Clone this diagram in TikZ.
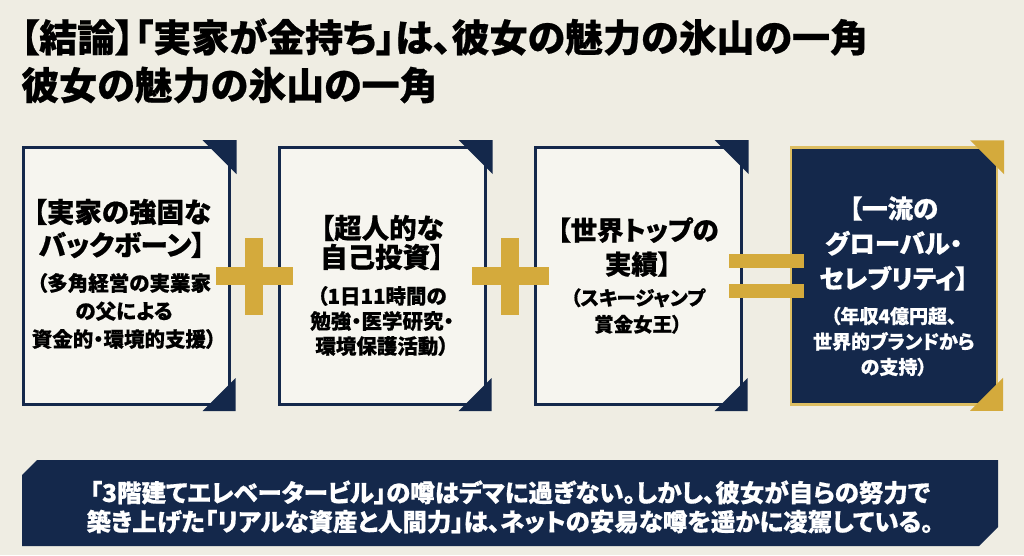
\documentclass[tikz,border=0pt]{standalone}
\usepackage{fontspec}
\setmainfont{Noto Sans CJK JP}
\newfontfamily\jppalt{Noto Sans CJK JP}[RawFeature=+palt, BoldFeatures={FakeBold=0.6}]
\usetikzlibrary{positioning, calc}
\definecolor{PageBg}{HTML}{EFEDE3}
\definecolor{CardFill}{HTML}{F6F5EF}
\definecolor{DeepNavy}{HTML}{14284B}
\definecolor{RichGold}{HTML}{D4AA3C}
\definecolor{PaleGold}{HTML}{DDBE62}
\tikzset{
    % Card frame
    card/.style={
        rectangle,
        draw=DeepNavy,
        line width=3pt,
        fill=CardFill,
        minimum width=206pt,
        minimum height=257pt
    },
    % Result card
    resultcard/.style={
        card,
        draw=PaleGold,
        line width=2.5pt,
        fill=DeepNavy
    },
    % Card heading
    cardtitle/.style={
        align=center,
        inner sep=0pt,
        font=\jppalt\bfseries\fontsize{27.5}{32}\selectfont
    },
    % Card detail
    cardsub/.style={
        align=center,
        inner sep=0pt,
        font=\jppalt\bfseries\fontsize{20.5}{27}\selectfont
    },
    % Gold operator bar
    opbar/.style={
        rectangle,
        fill=RichGold,
        inner sep=0pt
    }
}

\begin{document}
\begin{tikzpicture}[x=1pt, y=-1pt]
    \fill[PageBg] (0,0) rectangle (1024,555);

    % Heading
    \node (head1) [anchor=west, inner sep=0pt, font=\jppalt\bfseries\fontsize{38}{46}\selectfont] at (20,37) {【結論】「実家が金持ち」は、彼女の魅力の氷山の一角};
    \node (head2) [anchor=west, inner sep=0pt, font=\jppalt\bfseries\fontsize{38}{46}\selectfont] at (21,85) {彼女の魅力の氷山の一角};

    % Cards
    \node (c1) [card] at (126,276) {};
    \node (c2) [card, right=47pt of c1] {};
    \node (c3) [card, right=47pt of c2] {};
    \node (c4) [resultcard, right=47pt of c3] {};

    % Corner tabs
    \foreach \cn/\tc in {c1/DeepNavy, c2/DeepNavy, c3/DeepNavy, c4/RichGold} {
        \fill[\tc] ([shift={(-28,-6)}]\cn.north east) -- ([shift={(6,-6)}]\cn.north east) -- ([shift={(6,28)}]\cn.north east) -- cycle;
        \fill[\tc] ([shift={(-28,5)}]\cn.south east) -- ([shift={(5,5)}]\cn.south east) -- ([shift={(5,-28)}]\cn.south east) -- cycle;
    }

    % Card texts
    \node (t1) [cardtitle, font=\jppalt\bfseries\fontsize{27.5}{33}\selectfont] at ([xshift=-4pt, yshift=47.5pt]c1.center) {【実家の強固な\\バックボーン】};
    \node (s1) [cardsub, font=\jppalt\bfseries\fontsize{20.5}{28}\selectfont] at ([xshift=-2pt, yshift=-35pt]c1.center) {（多角経営の実業家\\の父による\\資金的・環境的支援）};
    \node (t2) [cardtitle, font=\jppalt\bfseries\fontsize{27.5}{29}\selectfont] at ([yshift=33.5pt]c2.center) {【超人的な\\自己投資】};
    \node (s2) [cardsub, font=\jppalt\bfseries\fontsize{20.5}{25}\selectfont] at ([yshift=-45pt]c2.center) {（1日11時間の\\勉強・医学研究・\\環境保護活動）};
    \node (t3) [cardtitle, font=\jppalt\bfseries\fontsize{26.5}{34}\selectfont] at ([yshift=29pt]c3.center) {【世界トップの\\実績】};
    \node (s3) [cardsub, font=\jppalt\bfseries\fontsize{19.5}{26.5}\selectfont] at ([yshift=-35pt]c3.center) {（スキージャンプ\\賞金女王）};
    \node (t4) [cardtitle, text=white, font=\jppalt\bfseries\fontsize{25.5}{35}\selectfont] at ([yshift=32.5pt]c4.center) {【一流の\\グローバル・\\セレブリティ】};
    \node (s4) [cardsub, text=white, font=\jppalt\bfseries\fontsize{19}{25.5}\selectfont] at ([yshift=-65.5pt]c4.center) {（年収4億円超、\\世界的ブランドから\\の支持）};

    % Operators
    \coordinate (op1) at ($(c1.east)!0.5!(c2.west)$);
    \coordinate (op2) at ($(c2.east)!0.5!(c3.west)$);
    \coordinate (op3) at ($(c3.east)!0.5!(c4.west)$);
    \foreach \op in {op1, op2} {
        \node (\op h) [opbar, minimum width=77pt, minimum height=18pt] at (\op) {};
        \node (\op v) [opbar, minimum width=18pt, minimum height=77pt] at (\op) {};
    }
    \node (eqtop) [opbar, minimum width=75pt, minimum height=14pt] at ([yshift=15pt]op3) {};
    \node (eqbot) [opbar, minimum width=75pt, minimum height=14pt] at ([yshift=-15pt]op3) {};

    % Summary banner
    \fill[DeepNavy] (22,475) -- (37,460) -- (998,460) -- (998,527) -- (979,546) -- (22,546) -- cycle;
    \node (note) [align=center, text=white, inner sep=0pt, font=\jppalt\bfseries\fontsize{24.5}{29}\selectfont] at (510,507) {「3階建てエレベータービル」の噂はデマに過ぎない。しかし、彼女が自らの努力で\\築き上げた「リアルな資産と人間力」は、ネットの安易な噂を遥かに凌駕している。};
\end{tikzpicture}
\end{document}
